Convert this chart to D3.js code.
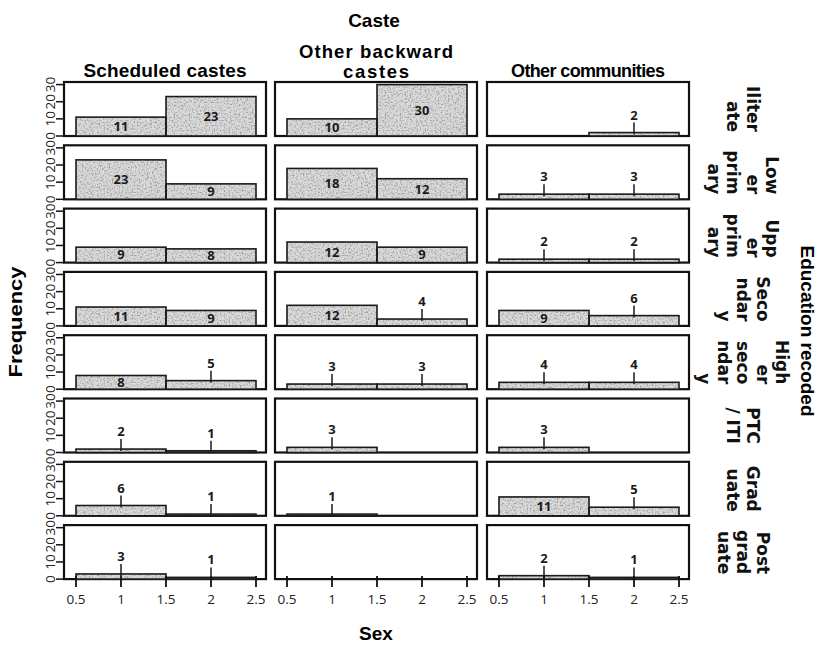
<!DOCTYPE html>
<html>
<head>
<meta charset="utf-8">
<script src="https://cdn.jsdelivr.net/npm/d3@7"></script>
<style>
  html, body { margin: 0; padding: 0; background: #fff; }
  svg { display: block; }
</style>
</head>
<body>
<svg id="chart" width="820" height="646"></svg>
<script>
// Counts of respondents by caste, education level and sex (1 = male, 2 = female)
const castes = ["Scheduled castes", "Other backward castes", "Other communities"];
const educationLevels = ["Iliterate", "Lower primary", "Upper primary", "Secondary",
  "Higher secondary", "PTC / ITI", "Graduate", "Post graduate"];
const educationLabelLines = [
  ["Iliter", "ate"], ["Low", "er", "prim", "ary"], ["Upp", "er", "prim", "ary"],
  ["Seco", "ndar", "y"], ["High", "er", "seco", "ndar", "y"], ["PTC", "/ ITI"],
  ["Grad", "uate"], ["Post", "grad", "uate"]
];
const sexCodes = [1, 2];
// [sex 1, sex 2] per education level; null = no bar
const scheduledCastes   = [[11, 23], [23, 9], [9, 8], [11, 9], [8, 5], [2, 1], [6, 1], [3, 1]];
const otherBackward     = [[10, 30], [18, 12], [12, 9], [12, 4], [3, 3], [3, null], [1, null], [null, null]];
const otherCommunities  = [[null, 2], [3, 3], [2, 2], [9, 6], [4, 4], [3, null], [11, 5], [2, 1]];
const xTicks = [0.5, 1, 1.5, 2, 2.5];
const yTicks = [0, 10, 20, 30];

const countsByCaste = [scheduledCastes, otherBackward, otherCommunities];

const svg = d3.select("#chart");
const W = 820, H = 646;

const panelW = 202, panelH = 54;
const colLeft = [64, 275, 487];
const rowTop = d3.range(educationLevels.length).map(i => 82 + i * 63.3);

const x = d3.scaleLinear().domain([0.5, 2.5]).range([12, 192]);
const y = d3.scaleLinear().domain([0, 31.5]).range([panelH, 0]);

// speckled fill for the bars
const defs = svg.append("defs");
const grain = defs.append("filter").attr("id", "grain")
  .attr("x", 0).attr("y", 0).attr("width", 1).attr("height", 1);
grain.append("feTurbulence").attr("type", "fractalNoise").attr("baseFrequency", 0.6)
  .attr("numOctaves", 2).attr("seed", 7).attr("result", "noise");
grain.append("feColorMatrix").attr("in", "noise").attr("type", "matrix")
  .attr("values", "0 0 0 0 0.35  0 0 0 0 0.35  0 0 0 0 0.35  0 0 0 -3.2 1.75")
  .attr("result", "speckle");
grain.append("feComposite").attr("in", "speckle").attr("in2", "SourceGraphic")
  .attr("operator", "in").attr("result", "clipped");
const merge = grain.append("feMerge");
merge.append("feMergeNode").attr("in", "SourceGraphic");
merge.append("feMergeNode").attr("in", "clipped");

svg.append("rect").attr("width", W).attr("height", H).attr("fill", "#fff");

const titleFont = "'Liberation Sans', Arial, sans-serif";
const valueFont = "'Open Sans', sans-serif";

// Overall titles
svg.append("text").attr("x", 374).attr("y", 27).attr("text-anchor", "middle")
  .attr("font-family", titleFont).attr("font-weight", "bold").attr("font-size", 19)
  .text("Caste");
svg.append("text").attr("x", 376).attr("y", 640).attr("text-anchor", "middle")
  .attr("font-family", titleFont).attr("font-weight", "bold").attr("font-size", 19)
  .text("Sex");
svg.append("text").attr("transform", "translate(22,322) rotate(-90)")
  .attr("text-anchor", "middle").attr("font-family", titleFont)
  .attr("font-weight", "bold").attr("font-size", 19)
  .attr("textLength", 111).attr("lengthAdjust", "spacingAndGlyphs")
  .text("Frequency");
svg.append("text").attr("transform", "translate(801,331) rotate(90)")
  .attr("text-anchor", "middle").attr("font-family", titleFont)
  .attr("font-weight", "bold").attr("font-size", 19)
  .text("Education recoded");

// Column headers
const colHeaders = [
  { lines: ["Scheduled castes"], base: [77], len: [163], size: 19 },
  { lines: ["Other backward", "castes"], base: [58, 78], len: [154, 66], size: 18.5 },
  { lines: ["Other communities"], base: [77], len: [154], size: 18 }
];
colHeaders.forEach((h, c) => {
  h.lines.forEach((ln, j) => {
    svg.append("text").attr("x", colLeft[c] + panelW / 2).attr("y", h.base[j])
      .attr("text-anchor", "middle").attr("font-family", titleFont)
      .attr("font-weight", "bold").attr("font-size", h.size)
      .attr("textLength", h.len[j]).attr("lengthAdjust", "spacing")
      .text(ln);
  });
});

// Panels
castes.forEach((caste, c) => {
  educationLevels.forEach((lvl, r) => {
    const g = svg.append("g").attr("transform", `translate(${colLeft[c]},${rowTop[r]})`);
    g.append("rect").attr("width", panelW).attr("height", panelH)
      .attr("fill", "#fff").attr("stroke", "#111").attr("stroke-width", 2.2);

    const vals = countsByCaste[c][r];
    const bars = sexCodes.map((s, k) => ({ sex: s, v: vals[k] })).filter(d => d.v != null);

    g.selectAll("rect.fill").data(bars).join("rect").attr("class", "fill")
      .attr("x", d => x(d.sex - 0.5)).attr("y", d => y(d.v))
      .attr("width", d => x(d.sex + 0.5) - x(d.sex - 0.5))
      .attr("height", d => y(0) - y(d.v))
      .attr("fill", "#dadada").attr("filter", "url(#grain)");
    g.selectAll("rect.edge").data(bars).join("rect").attr("class", "edge")
      .attr("x", d => x(d.sex - 0.5)).attr("y", d => y(d.v))
      .attr("width", d => x(d.sex + 0.5) - x(d.sex - 0.5))
      .attr("height", d => y(0) - y(d.v))
      .attr("fill", "none").attr("stroke", "#1a1a1a").attr("stroke-width", 1.6);

    bars.forEach(d => {
      if (d.v >= 7) {
        g.append("text").attr("x", x(d.sex)).attr("y", (y(d.v) + y(0)) / 2 + 4.5)
          .attr("text-anchor", "middle").attr("font-family", valueFont)
          .attr("font-weight", "bold").attr("font-size", 13).attr("fill", "#1a1a1a")
          .text(d.v);
      } else {
        g.append("line").attr("x1", x(d.sex)).attr("x2", x(d.sex))
          .attr("y1", y(d.v) + 2).attr("y2", y(d.v) - 10)
          .attr("stroke", "#1a1a1a").attr("stroke-width", 1.5);
        g.append("text").attr("x", x(d.sex)).attr("y", y(d.v) - 13)
          .attr("text-anchor", "middle").attr("font-family", valueFont)
          .attr("font-weight", "bold").attr("font-size", 13).attr("fill", "#1a1a1a")
          .text(d.v);
      }
    });

    // y axis on the first column
    if (c === 0) {
      yTicks.forEach(t => {
        g.append("line").attr("x1", -8).attr("x2", 0).attr("y1", y(t)).attr("y2", y(t))
          .attr("stroke", "#111").attr("stroke-width", 1.5);
        g.append("text").attr("transform", `translate(-9,${y(t)}) rotate(-90)`)
          .attr("text-anchor", "middle").attr("font-family", valueFont)
          .attr("font-size", 13.5).attr("fill", "#222").text(t);
      });
    }
    // x axis on the last row
    if (r === educationLevels.length - 1) {
      xTicks.forEach(t => {
        g.append("line").attr("x1", x(t)).attr("x2", x(t))
          .attr("y1", panelH - 3).attr("y2", panelH + 8)
          .attr("stroke", "#111").attr("stroke-width", 1.8);
        g.append("text").attr("x", x(t)).attr("y", panelH + 25)
          .attr("text-anchor", "middle").attr("font-family", valueFont)
          .attr("font-size", 13.5).attr("fill", "#222").text(t);
      });
    }
  });
});

// Row labels: lines stacked right-to-left, end-aligned, block centred on the row
educationLabelLines.forEach((lines, r) => {
  const cy = rowTop[r] + panelH / 2;
  const n = lines.length;
  const tmp = lines.map((ln, j) => svg.append("text")
    .attr("font-family", "'DejaVu Sans', sans-serif").attr("font-weight", "bold")
    .attr("font-size", 17).attr("fill", "#111").attr("text-anchor", "end").text(ln));
  const maxLen = d3.max(tmp, t => t.node().getComputedTextLength());
  tmp.forEach((t, j) => {
    const bx = 737 + ((n - 1) / 2 - j) * 19.5;
    t.attr("transform", `translate(${bx},${cy + maxLen / 2}) rotate(90)`);
  });
});
</script>
</body>
</html>
